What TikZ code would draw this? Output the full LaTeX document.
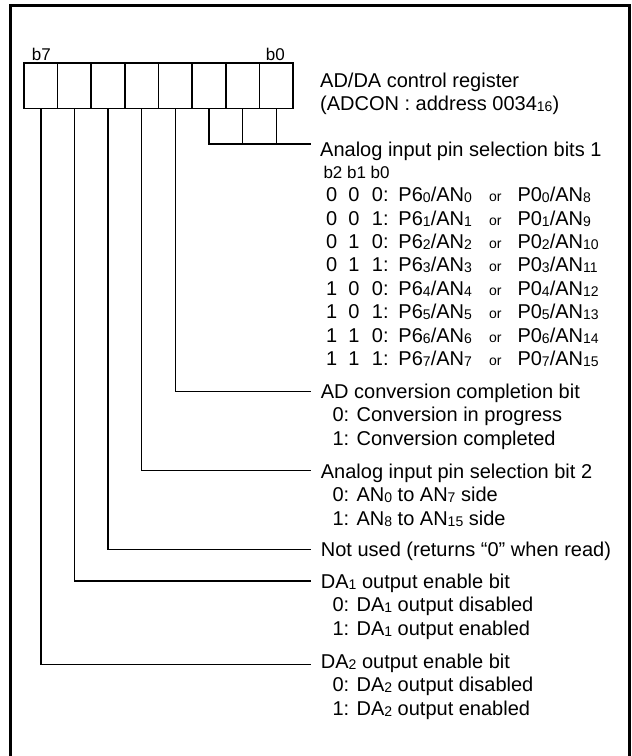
\documentclass[tikz,border=0pt]{standalone}
\usepackage{fontspec}
\setmainfont{Liberation Sans}
\usepackage{tikz}
\usetikzlibrary{positioning,calc}
\newcommand{\sbs}[1]{\raisebox{-1pt}{\fontsize{14}{14}\selectfont #1}}
\newcommand{\orw}{{\fontsize{14}{14}\selectfont or}}
\newcommand{\pinrow}[5]{\makebox[22.3pt][l]{#1}\makebox[23.4pt][l]{#2}\makebox[26.6pt][l]{#3:}\makebox[90.7pt][l]{P6\sbs{#4}/AN\sbs{#4}}\makebox[28.3pt][l]{\orw}P0\sbs{#4}/AN\sbs{#5}}

\begin{document}
\begin{tikzpicture}[x=1pt,y=-1pt,
  cell/.style={draw,line width=1.6pt,minimum width=33.65pt,minimum height=45.6pt,inner sep=0},
  txt/.style={anchor=base west,inner sep=0,font=\fontsize{20}{24}\selectfont},
  bitlab/.style={anchor=base west,inner sep=0,font=\fontsize{17}{20}\selectfont},
  lead/.style={line width=1.4pt}]
 \useasboundingbox (0,0) rectangle (632,756);
 % frame (bottom edge lies below the page)
 \draw[line width=3pt] (10.5,770) -- (10.5,5.5) -- (629.5,5.5) -- (629.5,770);
 % register, b7 on the left
 \foreach \i in {0,...,7}
   \node[cell] (c\i) at ({40.8+33.65*(7-\i)},85.5) {};
 \node[bitlab] (lb7) at (31.7,60.7) {b7};
 \node[bitlab] (lb0) at (265.7,60.7) {b0};
 \node[txt] (name) at (320,87.3) {AD/DA control register};
 \node[txt] (addr) at (320,110.7) {(ADCON : address 0034\sbs{16})};
 % bits 2..0
 \coordinate (e0) at (311,144);
 \draw[lead] (c2.south) |- (e0);
 \draw[lead] (c1.south) -- (c1.south |- e0);
 \draw[lead] (c0.south) -- (c0.south |- e0);
 \node[txt] (sel1) at (320,156) {Analog input pin selection bits 1};
 \node[bitlab] (hdr) at (323.3,178.3) {b2 b1 b0};
 \foreach \a/\b/\c/\m [count=\k from 0] in
   {0/0/0/8,0/0/1/9,0/1/0/10,0/1/1/11,1/0/0/12,1/0/1/13,1/1/0/14,1/1/1/15}
   \node[txt] (r\k) at (326,{201.7+23.4*\k}) {\pinrow{\a}{\b}{\c}{\k}{\m}};
 % bit 3
 \coordinate (e3) at (311,391.7);
 \draw[lead] (c3.south) |- (e3);
 \node[txt] (adf) at (320.7,398.3) {AD conversion completion bit};
 \node[txt] (adf0) at (332.3,421.7) {0: Conversion in progress};
 \node[txt] (adf1) at (332.3,445.1) {1: Conversion completed};
 % bit 4
 \coordinate (e4) at (311,470.7);
 \draw[lead] (c4.south) |- (e4);
 \node[txt] (sel2) at (320.7,478.3) {Analog input pin selection bit 2};
 \node[txt] (sel20) at (332.3,501.7) {0: AN\sbs{0} to AN\sbs{7} side};
 \node[txt] (sel21) at (332.3,525.1) {1: AN\sbs{8} to AN\sbs{15} side};
 % bit 5
 \coordinate (e5) at (311,549.3);
 \draw[lead] (c5.south) |- (e5);
 \node[txt] (nu) at (320.7,556.7) {Not used (returns “0” when read)};
 % bit 6
 \coordinate (e6) at (311,581);
 \draw[lead] (c6.south) |- (e6);
 \node[txt] (da1) at (320.7,588.3) {DA\sbs{1} output enable bit};
 \node[txt] (da10) at (332.3,611.7) {0: DA\sbs{1} output disabled};
 \node[txt] (da11) at (332.3,635.1) {1: DA\sbs{1} output enabled};
 % bit 7
 \coordinate (e7) at (311,664.3);
 \draw[lead] (c7.south) |- (e7);
 \node[txt] (da2) at (320.7,668.3) {DA\sbs{2} output enable bit};
 \node[txt] (da20) at (332.3,691.7) {0: DA\sbs{2} output disabled};
 \node[txt] (da21) at (332.3,715.1) {1: DA\sbs{2} output enabled};
\end{tikzpicture}
\end{document}
